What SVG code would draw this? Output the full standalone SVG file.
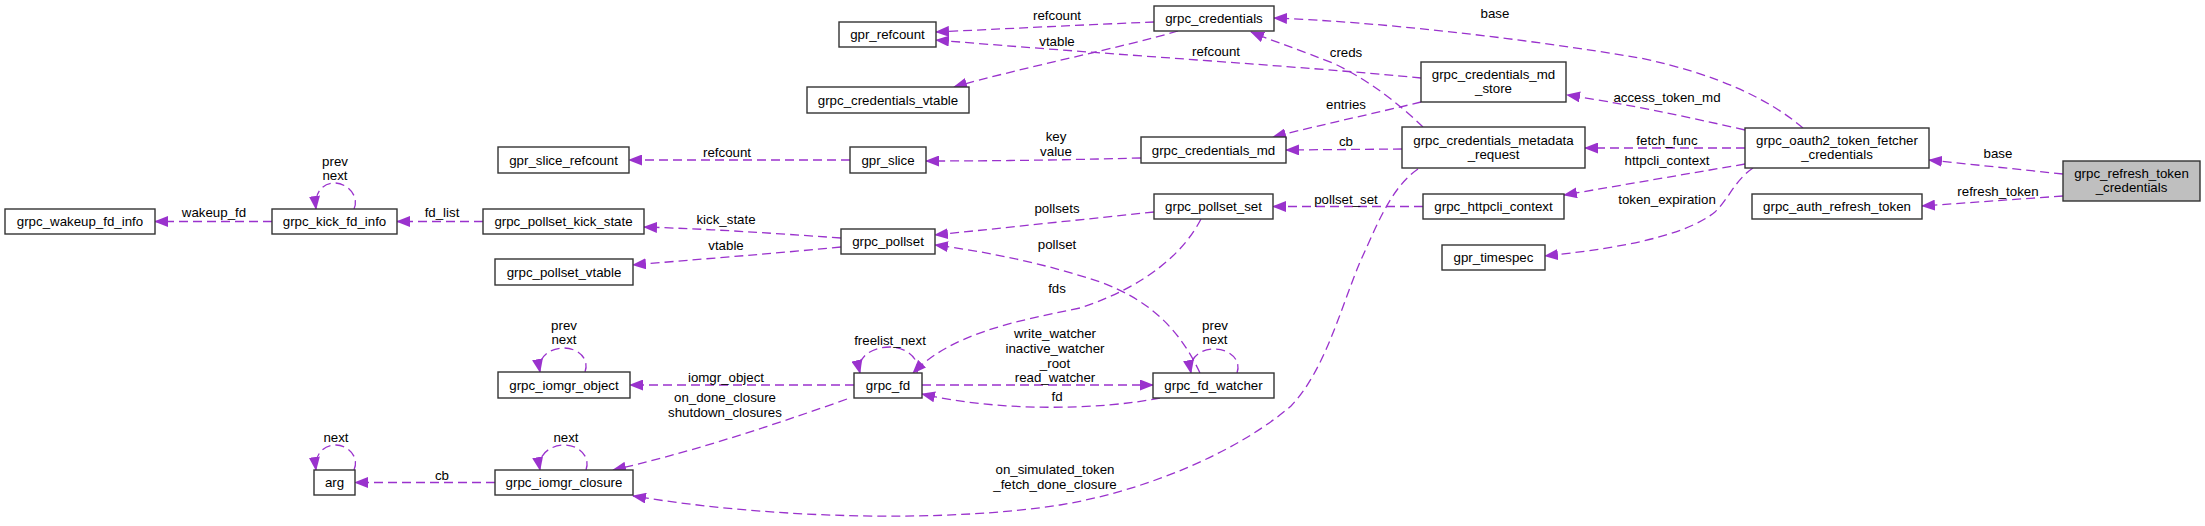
<svg xmlns="http://www.w3.org/2000/svg" width="2205" height="526" viewBox="0 0 2205 526">
<defs>
<style>
text{font-family:"Liberation Sans",Arial,sans-serif;font-size:13.3px;fill:#000;text-anchor:middle}
.n rect{fill:#fff;stroke:#333;stroke-width:1.4}
.n.g rect{fill:#bfbfbf}
.e path{fill:none;stroke:#9a32cd;stroke-width:1.3;stroke-dasharray:9,5;marker-end:url(#a)}
</style>
<marker id="a" markerWidth="14" markerHeight="11" refX="13" refY="5.5" orient="auto" markerUnits="userSpaceOnUse"><path d="M0,0 L14,5.5 L0,11 z" fill="#9a32cd" stroke="none"/></marker>
</defs>
<rect width="2205" height="526" fill="#fff"/>

<g id="connectors" class="e">
<path d="M272,221.5 L155,221.5"/>
<path d="M483,221.5 L397,221.5"/>
<path d="M354,209 C360,195 346,183 335,183 C323,183 314,192 316,209"/>
<path d="M850,160 L629,160"/>
<path d="M841,238 C770,233 710,229 644,227"/>
<path d="M841,247 C770,254 700,259 633,265"/>
<path d="M1154,22 C1080,25 1000,29 936,32"/>
<path d="M1178,31 C1120,48 1020,68 954,87"/>
<path d="M1421,78 C1300,66 1100,54 936,40"/>
<path d="M1141,158 C1060,160 1000,161 926,161"/>
<path d="M1421,102 C1380,112 1320,125 1273,137"/>
<path d="M1402,149 L1286,150"/>
<path d="M1423,127 C1400,105 1372,82 1335,64 C1300,50 1270,40 1251,32"/>
<path d="M1803,128 C1770,100 1720,75 1640,58 C1520,38 1380,22 1274,18"/>
<path d="M1745,130 C1680,115 1620,103 1567,95"/>
<path d="M1745,148 L1585,148"/>
<path d="M1745,164 L1564,195"/>
<path d="M1753,168 C1735,180 1728,200 1715,212 C1680,240 1600,250 1545,256"/>
<path d="M2063,174 L1929,160"/>
<path d="M2063,196 L1922,206"/>
<path d="M1423,206.5 L1273,206.5"/>
<path d="M1154,212 L935,235"/>
<path d="M1200,373 C1180,330 1150,300 1100,282 C1050,265 990,252 935,245"/>
<path d="M1201,219 C1185,250 1150,285 1080,308 C1010,322 950,335 913,373"/>
<path d="M917,373 C921,358 905,347 890,347 C872,347 856,357 860,373"/>
<path d="M854,385 L630,385"/>
<path d="M847,399 C760,430 680,455 613,470"/>
<path d="M922,385 L1153,385"/>
<path d="M1160,398 C1100,410 1000,412 922,394"/>
<path d="M1237,373 C1242,359 1228,349 1215,349 C1200,349 1188,358 1191,373"/>
<path d="M585,372 C590,358 577,348 564,348 C550,348 537,357 540,372"/>
<path d="M586,470 C591,456 578,445 565,445 C551,445 537,454 540,470"/>
<path d="M354,470 C360,456 347,445 336,445 C324,445 314,454 316,470"/>
<path d="M495,482.5 L355,482.5"/>
<path d="M1418,169 C1390,188 1375,230 1360,262 C1340,310 1325,370 1291,406 C1240,450 1150,490 1060,505 C950,522 780,520 633,496"/>
</g>

<g id="edge-labels">
<text x="214" y="216.5">wakeup_fd</text>
<text x="442" y="216.5">fd_list</text>
<text x="335" y="165.5">prev</text>
<text x="335" y="179.5">next</text>
<text x="727" y="156.5">refcount</text>
<text x="726" y="223.5">kick_state</text>
<text x="726" y="249.5">vtable</text>
<text x="1057" y="19.5">refcount</text>
<text x="1057" y="45.5">vtable</text>
<text x="1056" y="140.5">key</text>
<text x="1056" y="155.5">value</text>
<text x="1057" y="212.5">pollsets</text>
<text x="1057" y="248.5">pollset</text>
<text x="1057" y="292.5">fds</text>
<text x="890" y="344.5">freelist_next</text>
<text x="726" y="381.5">iomgr_object</text>
<text x="725" y="401.5">on_done_closure</text>
<text x="725" y="416.5">shutdown_closures</text>
<text x="1055" y="337.5">write_watcher</text>
<text x="1055" y="352.5">inactive_watcher</text>
<text x="1055" y="367.5">_root</text>
<text x="1055" y="381.5">read_watcher</text>
<text x="1057" y="400.5">fd</text>
<text x="564" y="329.5">prev</text>
<text x="564" y="343.5">next</text>
<text x="566" y="441.5">next</text>
<text x="336" y="441.5">next</text>
<text x="442" y="479.5">cb</text>
<text x="1215" y="329.5">prev</text>
<text x="1215" y="343.5">next</text>
<text x="1055" y="473.5">on_simulated_token</text>
<text x="1055" y="488.5">_fetch_done_closure</text>
<text x="1216" y="55.5">refcount</text>
<text x="1346" y="56.5">creds</text>
<text x="1346" y="108.5">entries</text>
<text x="1346" y="145.5">cb</text>
<text x="1346" y="203.5">pollset_set</text>
<text x="1495" y="17.5">base</text>
<text x="1667" y="101.5">access_token_md</text>
<text x="1667" y="144.5">fetch_func</text>
<text x="1667" y="164.5">httpcli_context</text>
<text x="1667" y="203.5">token_expiration</text>
<text x="1998" y="157.5">base</text>
<text x="1998" y="195.5">refresh_token</text>
</g>

<g id="grpc_wakeup_fd_info" class="n"><rect x="5" y="209" width="150" height="25"/><text x="80" y="226">grpc_wakeup_fd_info</text></g>
<g id="grpc_kick_fd_info" class="n"><rect x="272" y="209" width="125" height="25"/><text x="334.5" y="226">grpc_kick_fd_info</text></g>
<g id="grpc_pollset_kick_state" class="n"><rect x="483" y="209" width="161" height="25"/><text x="563.5" y="226">grpc_pollset_kick_state</text></g>
<g id="gpr_slice_refcount" class="n"><rect x="498" y="147" width="131" height="26"/><text x="563.5" y="164.5">gpr_slice_refcount</text></g>
<g id="grpc_pollset_vtable" class="n"><rect x="495" y="259" width="138" height="26"/><text x="564" y="276.5">grpc_pollset_vtable</text></g>
<g id="grpc_iomgr_object" class="n"><rect x="498" y="372" width="132" height="26"/><text x="564" y="389.5">grpc_iomgr_object</text></g>
<g id="grpc_iomgr_closure" class="n"><rect x="495" y="470" width="138" height="25"/><text x="564" y="487">grpc_iomgr_closure</text></g>
<g id="arg" class="n"><rect x="314" y="470" width="41" height="25"/><text x="334.5" y="487">arg</text></g>
<g id="gpr_refcount" class="n"><rect x="839" y="22" width="97" height="25"/><text x="887.5" y="39">gpr_refcount</text></g>
<g id="grpc_credentials_vtable" class="n"><rect x="807" y="87" width="162" height="26"/><text x="888" y="104.5">grpc_credentials_vtable</text></g>
<g id="gpr_slice" class="n"><rect x="850" y="147" width="76" height="26"/><text x="888" y="164.5">gpr_slice</text></g>
<g id="grpc_pollset" class="n"><rect x="841" y="229" width="94" height="25"/><text x="888" y="246">grpc_pollset</text></g>
<g id="grpc_fd" class="n"><rect x="854" y="373" width="68" height="25"/><text x="888" y="390">grpc_fd</text></g>
<g id="grpc_credentials" class="n"><rect x="1154" y="6" width="120" height="25"/><text x="1214" y="23">grpc_credentials</text></g>
<g id="grpc_credentials_md" class="n"><rect x="1141" y="137" width="145" height="26"/><text x="1213.5" y="154.5">grpc_credentials_md</text></g>
<g id="grpc_pollset_set" class="n"><rect x="1154" y="194" width="119" height="25"/><text x="1213.5" y="211">grpc_pollset_set</text></g>
<g id="grpc_fd_watcher" class="n"><rect x="1153" y="373" width="121" height="25"/><text x="1213.5" y="390">grpc_fd_watcher</text></g>
<g id="grpc_credentials_md_store" class="n"><rect x="1421" y="62" width="145" height="40"/><text x="1493.5" y="79">grpc_credentials_md</text><text x="1493.5" y="93">_store</text></g>
<g id="grpc_credentials_metadata_request" class="n"><rect x="1402" y="127" width="183" height="41"/><text x="1493.5" y="144.5">grpc_credentials_metadata</text><text x="1493.5" y="158.5">_request</text></g>
<g id="grpc_httpcli_context" class="n"><rect x="1423" y="194" width="141" height="25"/><text x="1493.5" y="211">grpc_httpcli_context</text></g>
<g id="gpr_timespec" class="n"><rect x="1442" y="245" width="103" height="25"/><text x="1493.5" y="262">gpr_timespec</text></g>
<g id="grpc_oauth2_token_fetcher_credentials" class="n"><rect x="1745" y="128" width="184" height="40"/><text x="1837" y="144.5">grpc_oauth2_token_fetcher</text><text x="1837" y="158.5">_credentials</text></g>
<g id="grpc_auth_refresh_token" class="n"><rect x="1752" y="194" width="170" height="25"/><text x="1837" y="211">grpc_auth_refresh_token</text></g>
<g id="grpc_refresh_token_credentials" class="n g"><rect x="2063" y="161" width="137" height="40"/><text x="2131.5" y="177.5">grpc_refresh_token</text><text x="2131.5" y="192">_credentials</text></g>
</svg>
